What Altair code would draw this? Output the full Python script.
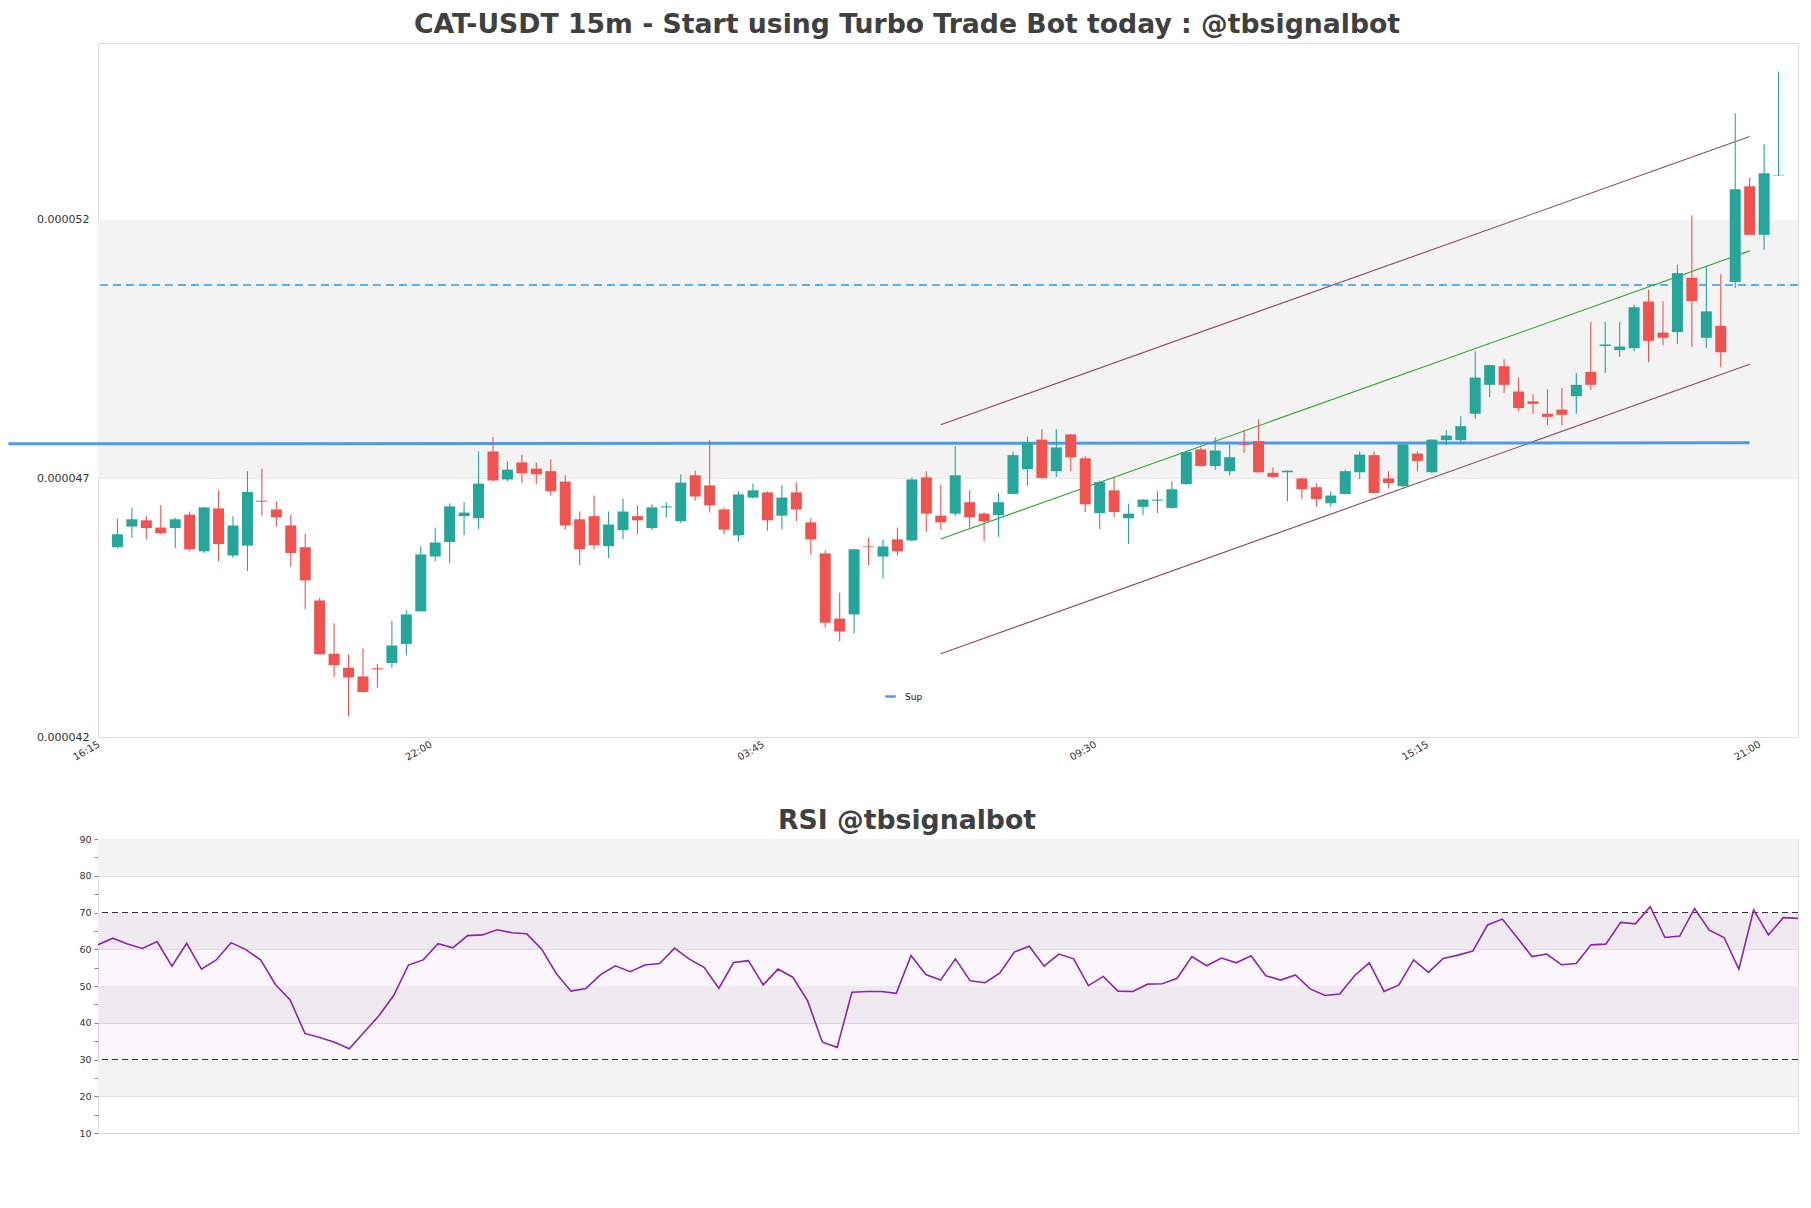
import altair as alt
import pandas as pd

# ---------------- data (prices in units of 1e-6 USDT) ----------------
PRICE_UNIT = 1e-6

opens = [45.67, 46.07, 46.19, 46.05, 46.04, 46.30, 45.59, 46.42, 45.51, 45.70,
         46.57, 46.40, 46.09, 45.67, 44.64, 43.61, 43.34, 43.17, 43.33, 43.43,
         43.80, 44.43, 45.49, 45.77, 46.27, 46.23, 47.52, 46.98, 47.31, 47.19,
         47.14, 46.94, 46.21, 46.27, 45.69, 46.00, 46.27, 46.04, 46.44, 46.175,
         47.06, 46.865, 46.40, 45.90, 46.63, 46.73, 46.28, 46.73, 46.15, 45.55,
         44.29, 44.37, 45.685, 45.49, 45.82, 45.80, 47.02, 46.28, 46.32, 46.54,
         46.32, 46.29, 46.70, 47.18, 47.75, 47.14, 47.85, 47.39, 46.33, 46.77,
         46.23, 46.45, 46.57, 46.43, 46.89, 47.56, 47.24, 47.14, 47.66, 47.72,
         47.11, 47.12, 47.00, 46.83, 46.52, 46.70, 47.12, 47.45, 47.00, 46.85,
         47.48, 47.12, 47.74, 47.74, 48.25, 48.81, 49.17, 48.68, 48.49, 48.25,
         48.33, 48.59, 49.06, 49.56, 49.48, 49.52, 50.42, 49.82, 49.83, 50.88,
         49.72, 49.95, 50.80, 52.65, 51.71, 52.86]
highs = [46.22, 46.43, 46.28, 46.48, 46.24, 46.36, 46.45, 46.77, 46.27, 47.14,
         47.19, 46.56, 46.30, 45.93, 44.69, 44.20, 43.60, 43.71, 43.41, 44.25,
         44.45, 45.685, 46.05, 46.52, 46.54, 47.52, 47.80, 47.33, 47.46, 47.31,
         47.37, 47.06, 46.36, 46.67, 46.36, 46.61, 46.48, 46.50, 46.54, 47.08,
         47.15, 47.74, 46.44, 46.75, 46.90, 46.75, 46.87, 46.92, 46.23, 45.61,
         44.79, 45.64, 45.86, 45.82, 46.05, 47.02, 47.14, 46.88, 47.62, 46.77,
         46.34, 46.72, 47.52, 47.81, 47.95, 47.95, 47.86, 47.43, 46.96, 47.03,
         46.51, 46.60, 46.75, 46.94, 47.54, 47.60, 47.79, 47.66, 47.94, 48.14,
         47.21, 47.16, 47.01, 46.90, 46.75, 47.17, 47.52, 47.52, 47.14, 47.67,
         47.52, 47.76, 47.93, 48.20, 49.46, 49.20, 49.30, 48.95, 48.63, 48.72,
         48.75, 49.04, 50.03, 50.03, 50.03, 50.36, 50.65, 50.42, 51.13, 52.09,
         51.10, 50.95, 54.06, 52.82, 53.46, 54.87]
lows = [45.65, 45.85, 45.82, 45.92, 45.65, 45.59, 45.56, 45.40, 45.46, 45.21,
        46.28, 46.07, 45.29, 44.47, 43.59, 43.16, 42.40, 42.86, 42.95, 43.33,
        43.58, 44.42, 45.40, 45.36, 45.90, 46.02, 46.95, 46.95, 46.91, 46.89,
        46.67, 46.01, 45.32, 45.63, 45.46, 45.83, 45.92, 46.00, 46.25, 46.14,
        46.57, 46.34, 45.92, 45.78, 46.61, 45.99, 46.01, 46.17, 45.53, 44.12,
        43.85, 44.00, 45.32, 45.06, 45.51, 45.78, 45.97, 46.01, 46.28, 46.05,
        45.79, 45.87, 46.69, 46.86, 46.99, 47.03, 47.14, 46.35, 46.02, 46.25,
        45.73, 46.29, 46.33, 46.42, 46.88, 47.23, 47.17, 47.06, 47.49, 47.11,
        47.02, 46.56, 46.60, 46.45, 46.45, 46.69, 46.99, 46.71, 46.81, 46.83,
        47.14, 47.11, 47.64, 47.67, 48.15, 48.57, 48.65, 48.30, 48.25, 48.03,
        48.03, 48.25, 48.71, 49.04, 49.35, 49.46, 49.25, 49.58, 49.60, 49.54,
        49.52, 49.15, 50.68, 51.71, 51.42, 52.85]
closes = [45.92, 46.21, 46.04, 45.94, 46.21, 45.63, 46.44, 45.73, 46.09, 46.74,
          46.55, 46.25, 45.56, 45.03, 43.60, 43.39, 43.15, 42.87, 43.31, 43.77,
          44.37, 45.53, 45.76, 46.46, 46.34, 46.90, 46.96, 47.17, 47.10, 47.08,
          46.75, 46.09, 45.63, 45.71, 46.11, 46.36, 46.19, 46.44, 46.46, 46.92,
          46.65, 46.48, 46.01, 46.69, 46.77, 46.19, 46.63, 46.40, 45.82, 44.21,
          44.04, 45.63, 45.67, 45.685, 45.59, 46.98, 46.32, 46.15, 47.06, 46.25,
          46.17, 46.54, 47.45, 47.70, 47.01, 47.60, 47.41, 46.50, 46.93, 46.35,
          46.32, 46.59, 46.59, 46.79, 47.51, 47.24, 47.54, 47.41, 47.645, 47.12,
          47.03, 47.15, 46.79, 46.60, 46.67, 47.14, 47.46, 46.72, 46.91, 47.66,
          47.34, 47.75, 47.83, 48.01, 48.95, 49.19, 48.81, 48.36, 48.44, 48.19,
          48.23, 48.81, 48.81, 49.59, 49.55, 50.31, 49.66, 49.72, 50.97, 50.43,
          50.23, 49.44, 52.59, 51.71, 52.90, 52.87]

rsi_values = [61.2, 63.0, 61.4, 60.2, 62.1, 55.4, 61.6, 54.6, 57.1, 61.8,
              59.9, 57.1, 50.4, 46.2, 37.1, 36.0, 34.7, 32.9, 37.4, 41.9,
              47.4, 55.7, 57.1, 61.5, 60.4, 63.7, 63.9, 65.3, 64.5, 64.2,
              60.1, 53.4, 48.6, 49.3, 53.1, 55.5, 53.9, 55.7, 56.1, 60.3,
              57.3, 55.1, 49.4, 56.4, 56.9, 50.3, 54.6, 52.4, 46.0, 34.7,
              33.3, 48.3, 48.5, 48.5, 48.0, 58.3, 53.1, 51.6, 57.4, 51.4,
              50.9, 53.5, 59.3, 60.8, 55.4, 58.7, 57.4, 50.1, 52.6, 48.6,
              48.5, 50.5, 50.6, 52.1, 58.0, 55.5, 57.6, 56.3, 58.2, 52.8,
              51.6, 53.0, 49.2, 47.4, 47.8, 52.8, 56.3, 48.5, 50.3, 57.1,
              53.7, 57.5, 58.4, 59.5, 66.6, 68.2, 63.2, 58.0, 58.7, 55.8,
              56.1, 61.2, 61.4, 67.3, 66.9, 71.6, 63.2, 63.6, 71.1, 65.2,
              63.2, 54.6, 70.7, 63.9, 68.6, 68.4]

tick_index = [0, 23, 46, 69, 92, 115]
tick_labels = ["16:15", "22:00", "03:45", "09:30", "15:15", "21:00"]
price_ticks = [42.0, 47.0, 52.0]

# support line (Sup)
sup_index = [-6.55, 114]
sup_level = [47.67, 47.69]
# resistance (dashed)
res_level = [50.74]
# regression channel
channel_index = [58, 114]
channel_upper = [48.04, 53.61]
channel_mid = [45.83, 51.40]
channel_lower = [43.61, 49.21]
# shaded price band
band_low = [47.0]
band_high = [52.0]

# RSI
rsi_bands_low = [80, 60, 40, 20]
rsi_bands_high = [90, 70, 50, 30]
rsi_zone = [30, 70]
rsi_levels = [30, 70]

# ---------------- frames ----------------
n = len(opens)
candles = pd.DataFrame({
    "i": list(range(1, n + 1)),
    "open": [v * PRICE_UNIT for v in opens],
    "high": [v * PRICE_UNIT for v in highs],
    "low": [v * PRICE_UNIT for v in lows],
    "close": [v * PRICE_UNIT for v in closes],
})
candles["dir"] = ["up" if c >= o else "down" for o, c in zip(opens, closes)]

band_df = pd.DataFrame({"lo": [v * PRICE_UNIT for v in band_low],
                        "hi": [v * PRICE_UNIT for v in band_high]})
res_df = pd.DataFrame({"level": [v * PRICE_UNIT for v in res_level]})
sup_df = pd.DataFrame({"i": sup_index, "value": [v * PRICE_UNIT for v in sup_level],
                       "name": ["Sup"] * len(sup_index)})
chan_rows = []
for name, vals in (("upper", channel_upper), ("mid", channel_mid), ("lower", channel_lower)):
    for idx, v in zip(channel_index, vals):
        chan_rows.append({"i": idx, "value": v * PRICE_UNIT, "line": name})
chan_df = pd.DataFrame(chan_rows)

rsi_df = pd.DataFrame({"k": list(range(len(rsi_values))), "rsi": rsi_values})
rsi_band_df = pd.DataFrame({"lo": rsi_bands_low, "hi": rsi_bands_high})
rsi_zone_df = pd.DataFrame({"lo": [rsi_zone[0]], "hi": [rsi_zone[1]]})
rsi_lvl_df = pd.DataFrame({"level": rsi_levels})

# ---------------- main chart ----------------
W = 1700
H_MAIN = 694
H_RSI = 294
FONT = "DejaVu Sans"

idx_list = "[" + ",".join(str(v) for v in tick_index) + "]"
lab_list = "[" + ",".join("'" + s + "'" for s in tick_labels) + "]"
x_axis = alt.Axis(values=tick_index, labelExpr=f"{lab_list}[indexof({idx_list}, datum.value)]",
                  labelAngle=-30, labelAlign="right", labelBaseline="top", labelPadding=2,
                  labelOffset=-7,
                  grid=False, ticks=False, domain=False, title=None,
                  labelFontSize=10, labelColor="#333333", labelFont=FONT)
x_scale = alt.Scale(domain=[0, 117], nice=False, zero=False)
y_scale = alt.Scale(domain=[42.0 * PRICE_UNIT, 55.42 * PRICE_UNIT], nice=False, zero=False)
y_axis = alt.Axis(values=[v * PRICE_UNIT for v in price_ticks], format=".6f", ticks=False,
                  domain=False, grid=True, gridColor="#dedede", labelPadding=9, title=None,
                  labelFontSize=11, labelColor="#333333", labelFont=FONT,
                  minExtent=97, maxExtent=97)

band = alt.Chart(band_df).mark_rect(color="#f3f3f3").encode(
    y=alt.Y("lo:Q", scale=y_scale, axis=y_axis), y2="hi:Q")

res = alt.Chart(res_df).mark_rule(color="#2a9df4", strokeWidth=1.3, strokeDash=[8, 5]).encode(
    y=alt.Y("level:Q", scale=y_scale, axis=y_axis))

chan = alt.Chart(chan_df).mark_line(strokeWidth=1.1).encode(
    x=alt.X("i:Q", scale=x_scale, axis=x_axis),
    y=alt.Y("value:Q", scale=y_scale, axis=y_axis),
    color=alt.Color("line:N", scale=alt.Scale(domain=["upper", "mid", "lower"],
                                              range=["#8c4a62", "#2ca02c", "#8c4a62"]),
                    legend=None),
    detail="line:N")

sup = alt.Chart(sup_df).mark_line(strokeWidth=3, opacity=0.9).encode(
    x=alt.X("i:Q", scale=x_scale, axis=x_axis),
    y=alt.Y("value:Q", scale=y_scale, axis=y_axis),
    color=alt.Color("name:N", scale=alt.Scale(domain=["Sup"], range=["#3f8fe6"]),
                    legend=alt.Legend(orient="none", legendX=786, legendY=647, title=None,
                                      symbolType="stroke", symbolStrokeWidth=2.5,
                                      symbolSize=110, symbolStrokeColor="#1c1c9c",
                                      labelFontSize=9, labelColor="#111111", labelFont=FONT,
                                      padding=0, labelOffset=8)))

dir_scale = alt.Scale(domain=["up", "down"], range=["#26a69a", "#ef5350"])
wicks = alt.Chart(candles).mark_rule(strokeWidth=1.1).encode(
    x=alt.X("i:Q", scale=x_scale, axis=x_axis),
    y=alt.Y("low:Q", scale=y_scale, axis=y_axis), y2="high:Q",
    color=alt.Color("dir:N", scale=dir_scale, legend=None))
bodies = alt.Chart(candles).mark_bar(size=11).encode(
    x=alt.X("i:Q", scale=x_scale, axis=x_axis),
    y=alt.Y("open:Q", scale=y_scale, axis=y_axis), y2="close:Q",
    color=alt.Color("dir:N", scale=dir_scale, legend=None))

main = alt.layer(band, res, chan, sup, wicks, bodies).resolve_scale(color="independent").properties(
    width=W, height=H_MAIN,
    title=alt.Title("CAT-USDT 15m - Start using Turbo Trade Bot today : @tbsignalbot",
                    fontSize=26.7, font=FONT, fontWeight="bold", color="#404040",
                    anchor="middle", dx=-41, offset=-17, baseline="alphabetic"))

# ---------------- RSI chart ----------------
rx_scale = alt.Scale(domain=[0, len(rsi_values) - 1], nice=False, zero=False)
ry_scale = alt.Scale(domain=[10, 90], nice=False, zero=False)
ry_axis = alt.Axis(values=list(range(10, 91, 5)),
                   labelExpr="datum.value % 10 == 0 ? datum.label : ''",
                   tickSize=4, tickColor="#888888", domain=False, title=None,
                   grid=True,
                   gridColor={"condition": {"test": "datum.value % 10 == 0", "value": "#dcdcdc"},
                              "value": "rgba(0,0,0,0)"},
                   labelFontSize=9.5, labelColor="#333333", labelFont=FONT, labelPadding=3,
                   minExtent=97, maxExtent=97)

rbands = alt.Chart(rsi_band_df).mark_rect(color="#f3f3f3").encode(
    y=alt.Y("lo:Q", scale=ry_scale, axis=ry_axis), y2="hi:Q")
rzone = alt.Chart(rsi_zone_df).mark_rect(color="#b57fcf", opacity=0.07).encode(
    y=alt.Y("lo:Q", scale=ry_scale, axis=ry_axis), y2="hi:Q")
rlvl = alt.Chart(rsi_lvl_df).mark_rule(color="#333333", strokeWidth=1.1, strokeDash=[6, 4]).encode(
    y=alt.Y("level:Q", scale=ry_scale, axis=ry_axis))
rline = alt.Chart(rsi_df).mark_line(color="#8e24aa", strokeWidth=1.6).encode(
    x=alt.X("k:Q", scale=rx_scale, axis=None),
    y=alt.Y("rsi:Q", scale=ry_scale, axis=ry_axis))

rsi = alt.layer(rbands, rzone, rlvl, rline).properties(
    width=W, height=H_RSI,
    title=alt.Title("RSI @tbsignalbot", fontSize=26.7, font=FONT, fontWeight="bold",
                    color="#404040", anchor="middle", dx=-41, offset=-22, baseline="alphabetic"))

chart = alt.vconcat(main, rsi, spacing=44).properties(
    padding={"left": 0, "top": 11, "right": 0, "bottom": 0},
    background="white",
).configure_view(stroke="#d9d9d9", strokeWidth=1).configure(font=FONT)

chart.save("out.html", embed_options={"renderer": "svg", "actions": False})
